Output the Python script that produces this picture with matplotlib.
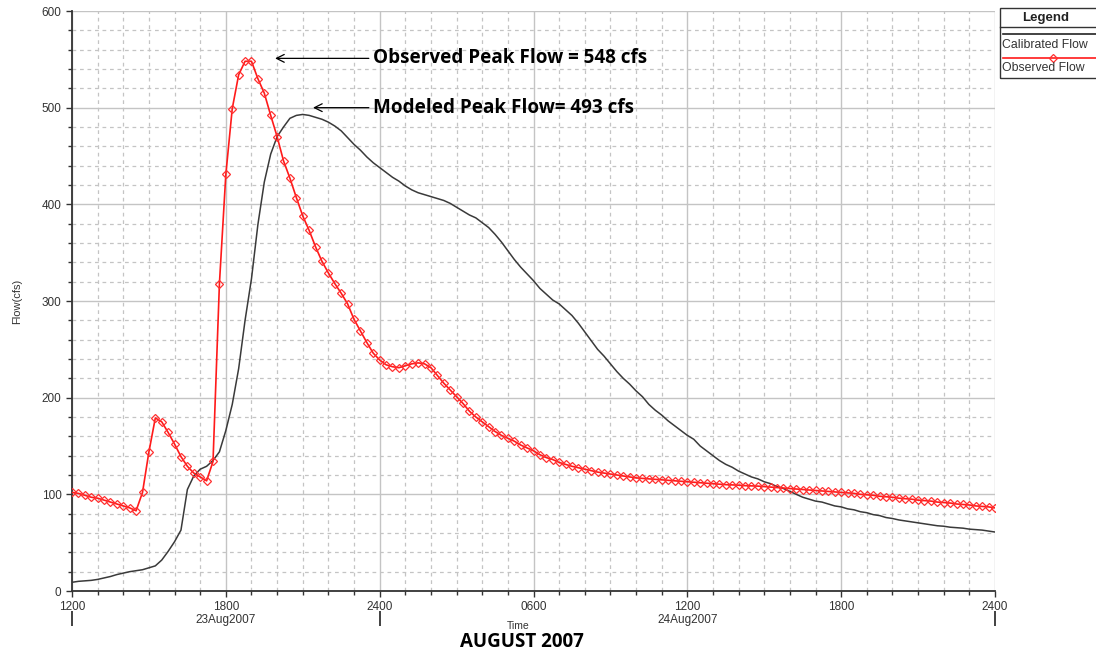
import numpy as np
import matplotlib
matplotlib.use('Agg')
import matplotlib.pyplot as plt
from matplotlib.ticker import MultipleLocator, FixedLocator
from matplotlib.patches import Rectangle
from matplotlib.lines import Line2D

plt.rcParams['font.family'] = ['Liberation Sans', 'DejaVu Sans']

# Time in hours after 1200 on 23Aug2007, 15 minute steps
step_hours = 0.25
n_steps = 145
times = np.arange(n_steps) * step_hours

# Observed flow (cfs)
obs_flow = [102, 101, 99, 97, 96, 94, 92, 90, 88, 86, 83, 102, 144, 179, 175,
            164, 152, 139, 129, 122, 118, 114, 134, 318, 431, 499, 534, 548,
            548, 530, 515, 492, 470, 445, 427, 407, 388, 373, 356, 341, 329,
            318, 308, 297, 281, 269, 257, 246, 239, 234, 232, 231, 233, 235,
            236, 235, 231, 223, 215, 208, 201, 194, 186, 180, 175, 170, 165,
            161, 158, 155, 151, 148, 145, 141, 138, 136, 133, 131, 129, 127.5,
            126, 124.5, 123, 122, 121, 120, 119, 118, 117, 116.5, 116, 115.5,
            115, 114.5, 114, 113.5, 113, 112.5, 112, 111.5, 111, 110.5, 110,
            109.8, 109.5, 109, 108.8, 108.5, 108, 107.5, 107, 106.5, 106, 105.5,
            105, 104.5, 104, 103.5, 103, 102.5, 102, 101.5, 101, 100, 99.5, 99,
            98, 97.5, 97, 96, 95.5, 95, 94, 93.5, 93, 92, 91.5, 91, 90, 89.5,
            89, 88, 87.5, 87, 86]

# Calibrated (modeled) flow (cfs)
cal_flow = [9, 10, 10.5, 11, 12, 13.5, 15, 17, 18.5, 20, 21, 22, 24, 26, 32,
            41, 51, 63, 105, 119, 126, 129, 135, 144, 166, 193, 230, 280, 323,
            379, 423, 452, 470, 480, 489, 492, 493, 492, 490, 488, 485, 481,
            476, 469, 462, 456, 449, 443, 438, 433, 428, 424, 419, 415, 412,
            410, 408, 406, 404, 401, 397, 393, 389, 386, 381, 376, 369, 361,
            352, 343, 335, 328, 321, 313, 307, 301, 297, 291, 285, 277, 268,
            259, 250, 243, 235, 227, 220, 214, 207, 201, 193, 187, 182, 176,
            171, 166, 161, 157, 150, 145, 140, 135, 131, 128, 124, 121, 118,
            116, 113, 111, 108, 106, 103, 100, 97, 95, 93, 92, 90, 88, 87, 85,
            84, 82, 81, 79, 78, 76, 75, 73.5, 72.5, 71.5, 70.5, 69.5, 68.5,
            67.5, 67, 66, 65.5, 65, 64, 63.5, 63, 62, 61]

tick_hours = [0, 6, 12, 18, 24, 30, 36]
tick_labels = ['1200', '1800', '2400', '0600', '1200', '1800', '2400']
day_hours = [6, 24]
day_labels = ['23Aug2007', '24Aug2007']
day_bounds = [0, 12, 36]

obs_peak = 548
cal_peak = 493

fig = plt.figure(figsize=(10.96, 6.54), dpi=100)
ax = fig.add_axes([72/1096, 1-591/654, (995-72)/1096, (591-11)/654])

ax.set_xlim(0, 36)
ax.set_ylim(0, 600)

# grid
ax.xaxis.set_major_locator(FixedLocator(tick_hours))
ax.xaxis.set_minor_locator(MultipleLocator(1))
ax.yaxis.set_major_locator(MultipleLocator(100))
ax.yaxis.set_minor_locator(MultipleLocator(20))
ax.grid(which='major', color='#c4c4c4', lw=1.0, ls='-')
ax.grid(which='minor', color='#c4c4c4', lw=0.9, ls=(0, (3, 3)))
ax.set_axisbelow(True)

ax.set_xticklabels(tick_labels)
ax.tick_params(which='both', direction='out', color='#333333',
               labelsize=8.5, labelcolor='#333333')
ax.tick_params(which='major', length=4, width=1)
ax.tick_params(which='minor', length=3, width=1)
ax.tick_params(axis='x', pad=3)
for s in ['top', 'right']:
    ax.spines[s].set_visible(False)
for s in ['left', 'bottom']:
    ax.spines[s].set_color('#333333')
    ax.spines[s].set_linewidth(1.3)

# data
ax.plot(times, cal_flow, color='#3a3a3a', lw=1.1, zorder=3)
ax.plot(times, obs_flow, color='#ff1a1a', lw=1.2, marker='D', ms=4,
        mfc='none', mec='#ff3030', mew=0.9, zorder=4)

# day labels and separators below the axis
trans = ax.get_xaxis_transform()
for h, lab in zip(day_hours, day_labels):
    ax.text(h, -0.04, lab, transform=trans, ha='center', va='top',
            fontsize=8.5, color='#333333')
ax.vlines(day_bounds, -0.034, -0.06, transform=trans, colors='#333333',
          lw=1.3, clip_on=False)

ax.set_ylabel('Flow(cfs)', fontsize=8, color='#333333', labelpad=14)
fig.text(518/1096, 1-626/654, 'Time', ha='center', va='center',
         fontsize=7.5, color='#333333')
fig.text(522/1096, 1-642/654, 'AUGUST 2007', ha='center', va='center',
         fontsize=13.5, fontweight='bold', family='Open Sans')

# peak annotations
ax.annotate('Observed Peak Flow = %d cfs' % obs_peak, xy=(7.92, 551),
            xytext=(11.74, 551), ha='left', va='center', fontsize=13.6,
            fontweight='bold', family='Open Sans',
            arrowprops=dict(arrowstyle='->', color='black', lw=0.9,
                            shrinkA=1, shrinkB=0, mutation_scale=14))
ax.annotate('Modeled Peak Flow= %d cfs' % cal_peak, xy=(9.4, 500),
            xytext=(11.74, 500), ha='left', va='center', fontsize=13.6,
            fontweight='bold', family='Open Sans',
            arrowprops=dict(arrowstyle='->', color='black', lw=0.9,
                            shrinkA=1, shrinkB=0, mutation_scale=14))

# legend box drawn by hand (partly cut off at the right edge)
def fx(px):
    return px / 1096

def fy(py):
    return 1 - py / 654

fig.patches.append(Rectangle((fx(1000), fy(78)), fx(110), 70/654,
                             transform=fig.transFigure, fill=False,
                             ec='#333333', lw=1))
fig.lines.append(Line2D([fx(1000), fx(1100)], [fy(27), fy(27)],
                        transform=fig.transFigure, color='#333333', lw=1))
fig.text(fx(1046), fy(18), 'Legend', ha='center', va='center',
         fontsize=9.5, fontweight='bold', color='#222222')
fig.lines.append(Line2D([fx(1003), fx(1100)], [fy(34), fy(34)],
                        transform=fig.transFigure, color='#222222', lw=1.2))
fig.text(fx(1002), fy(45), 'Calibrated Flow', ha='left', va='center',
         fontsize=8.8, color='#333333')
fig.lines.append(Line2D([fx(1003), fx(1100)], [fy(58), fy(58)],
                        transform=fig.transFigure, color='#ff1a1a', lw=1.2))
fig.lines.append(Line2D([fx(1053)], [fy(58)], transform=fig.transFigure,
                        marker='D', ms=4, mfc='none', mec='#ff3030', mew=0.9))
fig.text(fx(1002), fy(68), 'Observed Flow', ha='left', va='center',
         fontsize=8.8, color='#333333')

fig.savefig('out.png', dpi=100)
